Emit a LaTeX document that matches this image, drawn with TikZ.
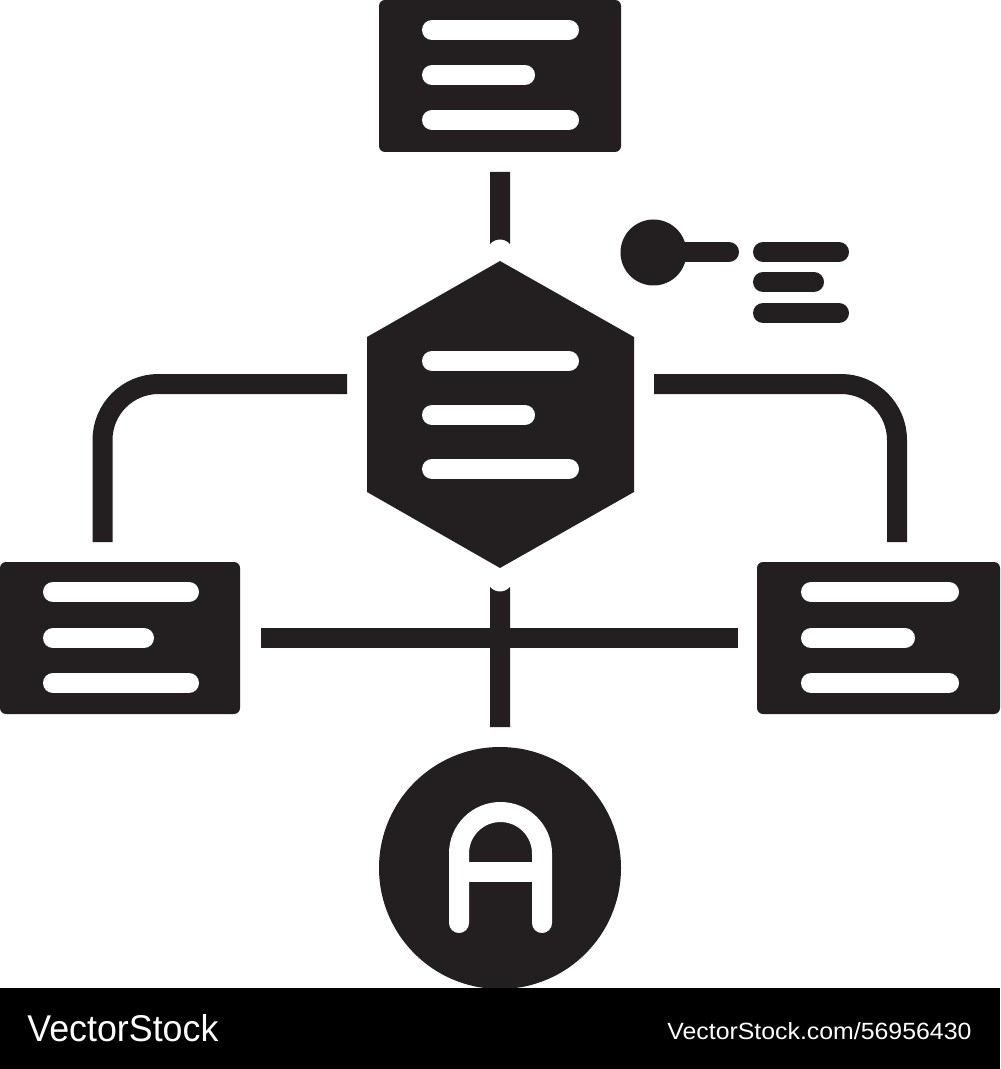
\documentclass[tikz,border=0pt]{standalone}
\usepackage{graphicx}
\usepackage{fontspec}
\setmainfont{Liberation Sans}
\definecolor{ink}{RGB}{35,31,32}
\begin{document}
\begin{tikzpicture}[x=0.5pt,y=-0.5pt,
  boxshape/.style={fill=ink, rounded corners=3pt},
  bar/.style={draw=white, line width=10pt, line cap=round},
  conn/.style={draw=ink, line width=10pt},
  pinbar/.style={draw=ink, line width=10pt, line cap=round}]
\useasboundingbox (0,0) rectangle (1000,1069);
\fill[white] (0,0) rectangle (1000,1069);
% top box
\fill[boxshape] (379,0) rectangle (621,152);
\draw[bar] (432,30) -- (569,30);
\draw[bar] (432,75) -- (525,75);
\draw[bar] (432,120) -- (569,120);
% left box
\fill[boxshape] (0,562) rectangle (240,714);
\draw[bar] (53,592) -- (189,592);
\draw[bar] (53,638) -- (144,638);
\draw[bar] (53,683) -- (189,683);
% right box
\fill[boxshape] (757,562) rectangle (1000,714);
\draw[bar] (811,592) -- (949,592);
\draw[bar] (811,638) -- (905,638);
\draw[bar] (811,683) -- (949,683);
% hexagon
\fill[ink] (500,261) -- (634,337) -- (634,492) -- (500,568) -- (367,492) -- (367,337) -- cycle;
\draw[bar] (432,361) -- (569,361);
\draw[bar] (432,415) -- (525,415);
\draw[bar] (432,469) -- (569,469);
% top connector
\fill[ink] (490,172) -- (510,172) -- (510,244) .. controls (505,238) and (495,238) .. (490,244) -- cycle;
% lower vertical connector
\fill[ink] (490,587) .. controls (495,593) and (505,593) .. (510,587) -- (510,727) -- (490,727) -- cycle;
% horizontal connector
\fill[ink] (261,628) rectangle (738,648);
% elbows
\draw[conn, rounded corners=28pt] (347,384) -- (102.5,384) -- (102.5,542);
\draw[conn, rounded corners=28pt] (654,384) -- (897,384) -- (897,542);
% pin
\fill[ink] (653.5,252.5) circle[radius=33];
\draw[pinbar] (653,252) -- (729,252);
\draw[pinbar] (763,252) -- (839,252);
\draw[pinbar] (763,282) -- (814,282);
\draw[pinbar] (763,313) -- (839,313);
% circle with A
\fill[ink] (500,868) circle[radius=121];
\draw[bar, line join=round] (459,923) -- (459,853.5) arc[start angle=180, end angle=360, radius=41.5] -- (542,923);
\draw[draw=white, line width=10pt] (459,872) -- (542,872);
% bottom bar
\fill[black] (0,988) rectangle (1000,1069);
\node[anchor=base west, inner sep=0, text=white] (logo) at (27,1041) {\resizebox{95.5pt}{13.5pt}{VectorStock}};
\node[anchor=base west, inner sep=0, text=white] (url) at (667,1039.5) {\resizebox{152pt}{8.5pt}{VectorStock.com/56956430}};
\end{tikzpicture}
\end{document}
